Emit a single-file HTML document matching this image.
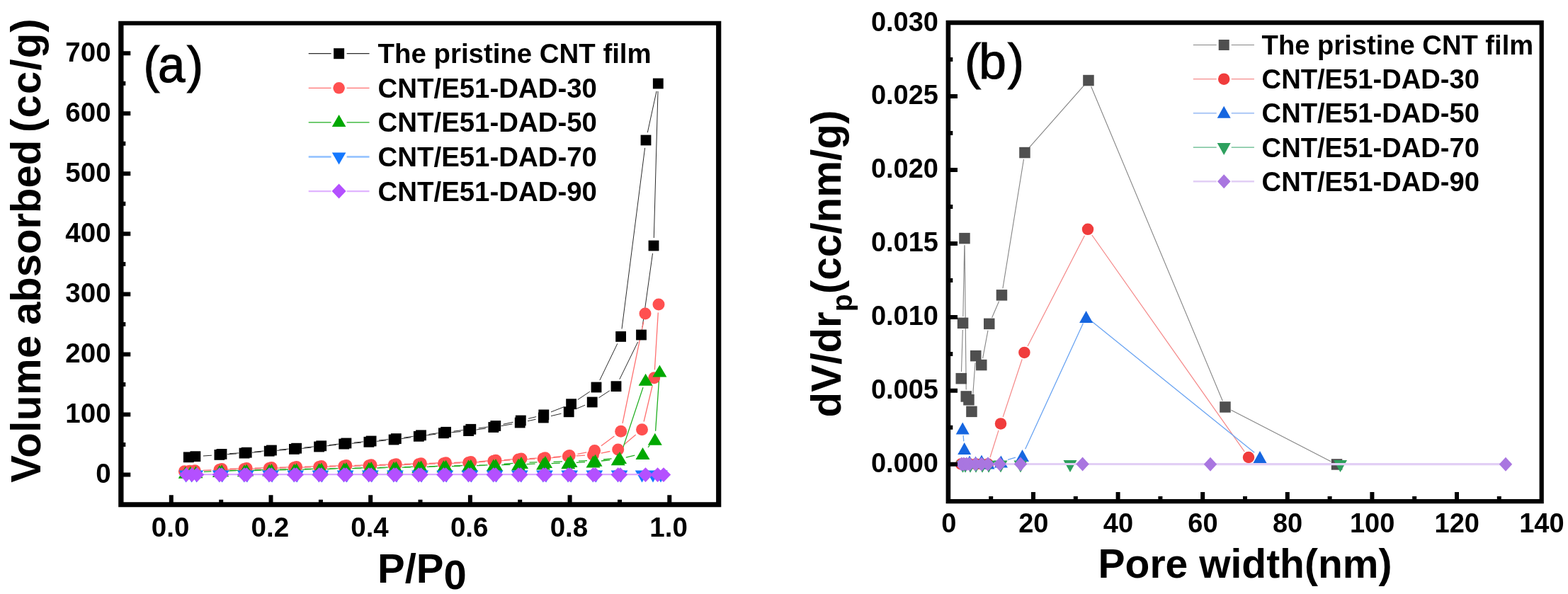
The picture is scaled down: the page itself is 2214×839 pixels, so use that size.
<!DOCTYPE html>
<html lang="en">
<head>
<meta charset="utf-8">
<title>N2 adsorption isotherms and pore width distribution</title>
<style>
html,body{margin:0;padding:0;background:#fff;}
body{width:2214px;height:839px;overflow:hidden;font-family:"Liberation Sans", Arial, sans-serif;}
svg{display:block;}
svg text{font-family:"Liberation Sans", Arial, sans-serif;}
</style>
</head>
<body>
<svg width="2214" height="839" viewBox="0 0 2214 839" font-family='"Liberation Sans", Arial, sans-serif' fill="#000">
<g id="panel-a">
<path d="M286.9,644.0L298.9,643.2 M320.8,641.7L334.0,640.9 M356.0,639.2L369.2,638.1 M391.2,636.3L404.4,635.3 M426.3,633.4L439.6,632.1 M461.5,629.8L474.8,628.3 M496.7,626.3L509.9,625.2 M531.9,623.3L545.1,622.0 M567.0,619.6L580.3,617.8 M602.2,614.9L615.5,613.2 M637.4,610.8L650.6,609.6 M672.5,607.0L685.9,605.1 M707.6,601.6L723.4,598.9 M745.0,594.7L756.5,592.3 M778.0,587.6L792.5,584.2 M813.3,577.6L826.1,572.2 M845.4,561.9L860.8,551.8 M874.8,535.8L900.7,482.9 M907.0,462.1L921.5,357.9 M923.3,336.0L929.0,129.0 M927.0,128.8L914.3,187.2 M910.6,208.9L878.0,464.5 M871.8,485.3L846.8,537.1 M832.9,553.1L815.7,564.6 M796.4,574.7L778.0,581.9 M757.1,588.6L746.0,591.3 M724.5,596.3L710.6,599.2 M688.9,603.0L675.7,604.8 M653.9,607.5L640.5,609.1 M618.7,611.7L605.4,613.4 M583.6,616.3L570.2,618.1 M548.4,620.7L535.0,621.9 M513.1,623.9L499.9,625.1 M478.0,627.2L464.6,628.6 M442.8,630.9L429.5,632.1 M407.6,634.1L394.4,635.1 M372.4,637.0L359.2,638.2 M337.2,639.9L324.0,640.7" fill="none" stroke="#2b2b2b" stroke-width="1.0"/>
<path d="M286.8,664.4L298.4,664.0 M321.3,663.2L333.5,662.8 M356.5,662.2L368.7,661.8 M391.7,661.2L403.9,660.8 M426.9,660.2L439.1,659.8 M462.0,659.2L474.2,658.9 M497.2,658.3L509.4,658.0 M532.4,657.4L544.6,657.1 M567.6,656.5L579.8,656.1 M602.7,655.4L614.9,655.0 M637.9,654.3L650.1,653.9 M673.1,652.8L685.3,652.0 M708.3,650.6L720.5,649.8 M743.4,648.6L755.6,648.2 M778.6,646.7L790.8,645.6 M813.8,643.9L826.0,643.2 M848.7,640.2L861.4,637.5 M881.5,627.7L897.7,614.1 M909.1,595.5L921.1,545.0 M924.4,522.3L929.3,441.5 M908.7,454.3L879.0,597.9 M867.4,616.0L848.9,629.7 M828.3,638.8L815.5,641.3 M792.7,644.6L781.2,645.7 M758.2,647.1L747.5,647.6 M724.5,648.7L711.5,649.6 M688.5,651.0L676.3,651.8 M653.3,652.9L641.1,653.3 M618.1,654.0L605.9,654.4 M583.0,655.1L570.8,655.5 M547.8,656.1L535.6,656.4 M512.6,657.0L500.4,657.3 M477.4,657.9L465.2,658.2 M442.3,658.8L430.1,659.2 M407.1,659.8L394.9,660.2 M371.9,660.8L359.7,661.2 M336.7,661.8L324.5,662.2" fill="none" stroke="#ff7070" stroke-width="1.3"/>
<path d="M288.0,666.3L298.4,665.9 M321.3,665.2L333.5,664.9 M356.5,664.5L368.7,664.3 M391.7,663.8L403.9,663.6 M426.9,663.1L439.1,662.9 M462.0,662.5L474.2,662.2 M497.2,661.7L509.4,661.5 M532.4,661.0L544.6,660.7 M567.6,660.2L579.8,660.0 M602.7,659.4L614.9,659.1 M637.9,658.6L650.1,658.3 M673.1,657.7L685.3,657.4 M708.3,656.7L720.5,656.3 M743.4,655.6L755.6,655.2 M778.6,654.6L790.8,654.2 M813.8,653.3L826.0,652.7 M848.9,651.0L861.2,649.8 M883.8,646.1L896.3,643.2 M915.0,631.8L917.3,629.1 M925.6,608.8L930.6,535.5 M908.0,547.1L878.6,635.6 M863.6,647.8L851.9,649.0 M829.0,650.7L817.0,651.2 M794.0,651.9L781.5,652.3 M758.5,652.9L747.5,653.1 M724.5,654.4L711.4,655.5 M688.5,656.8L676.3,657.1 M653.3,657.7L641.1,658.0 M618.1,658.5L605.9,658.8 M583.0,659.4L570.8,659.6 M547.8,660.1L535.6,660.4 M512.6,660.9L500.4,661.1 M477.4,661.6L465.2,661.9 M442.3,662.3L430.1,662.5 M407.1,663.0L394.9,663.2 M371.9,663.7L359.7,663.9 M336.7,664.3L324.5,664.6" fill="none" stroke="#1fae1f" stroke-width="1.3"/>
<polyline points="262.5,670.2 270.5,670.2 277.5,670.2 309.6,670.2 313.9,670.2 344.7,670.2 349.0,670.2 379.9,670.2 384.2,670.2 415.1,670.2 419.4,670.2 450.2,670.2 454.6,670.2 485.4,670.2 489.7,670.2 520.6,670.2 524.9,670.2 555.8,670.2 560.1,670.2 591.0,670.2 595.2,670.2 626.1,670.2 630.4,670.2 661.3,670.2 665.6,670.2 696.5,670.2 700.8,670.2 731.7,670.2 736.0,670.2 766.8,670.2 771.1,670.2 802.0,670.2 806.3,670.2 837.2,670.2 841.5,670.2 872.4,670.2 876.7,670.2 906.5,670.2 922.0,670.2 933.0,670.2" fill="none" stroke="#6fa9ff" stroke-width="1.6" stroke-linejoin="round" />
<rect x="258.9" y="638.4" width="14.8" height="14.8" fill="#000000"/>
<rect x="268.5" y="637.3" width="14.8" height="14.8" fill="#000000"/>
<rect x="302.5" y="635.0" width="14.8" height="14.8" fill="#000000"/>
<rect x="337.6" y="632.7" width="14.8" height="14.8" fill="#000000"/>
<rect x="372.8" y="629.8" width="14.8" height="14.8" fill="#000000"/>
<rect x="408.0" y="627.0" width="14.8" height="14.8" fill="#000000"/>
<rect x="443.2" y="623.6" width="14.8" height="14.8" fill="#000000"/>
<rect x="478.3" y="619.7" width="14.8" height="14.8" fill="#000000"/>
<rect x="513.5" y="616.9" width="14.8" height="14.8" fill="#000000"/>
<rect x="548.7" y="613.6" width="14.8" height="14.8" fill="#000000"/>
<rect x="583.9" y="608.9" width="14.8" height="14.8" fill="#000000"/>
<rect x="619.0" y="604.4" width="14.8" height="14.8" fill="#000000"/>
<rect x="654.2" y="601.2" width="14.8" height="14.8" fill="#000000"/>
<rect x="689.4" y="596.1" width="14.8" height="14.8" fill="#000000"/>
<rect x="726.8" y="589.6" width="14.8" height="14.8" fill="#000000"/>
<rect x="759.9" y="582.6" width="14.8" height="14.8" fill="#000000"/>
<rect x="795.8" y="574.4" width="14.8" height="14.8" fill="#000000"/>
<rect x="828.8" y="560.6" width="14.8" height="14.8" fill="#000000"/>
<rect x="862.6" y="538.3" width="14.8" height="14.8" fill="#000000"/>
<rect x="898.1" y="465.6" width="14.8" height="14.8" fill="#000000"/>
<rect x="915.6" y="339.6" width="14.8" height="14.8" fill="#000000"/>
<rect x="921.9" y="110.6" width="14.8" height="14.8" fill="#000000"/>
<rect x="904.6" y="190.6" width="14.8" height="14.8" fill="#000000"/>
<rect x="869.2" y="468.0" width="14.8" height="14.8" fill="#000000"/>
<rect x="834.6" y="539.6" width="14.8" height="14.8" fill="#000000"/>
<rect x="799.2" y="563.3" width="14.8" height="14.8" fill="#000000"/>
<rect x="760.4" y="578.5" width="14.8" height="14.8" fill="#000000"/>
<rect x="727.9" y="586.6" width="14.8" height="14.8" fill="#000000"/>
<rect x="692.4" y="594.1" width="14.8" height="14.8" fill="#000000"/>
<rect x="657.4" y="598.9" width="14.8" height="14.8" fill="#000000"/>
<rect x="622.2" y="602.9" width="14.8" height="14.8" fill="#000000"/>
<rect x="587.1" y="607.4" width="14.8" height="14.8" fill="#000000"/>
<rect x="551.9" y="612.2" width="14.8" height="14.8" fill="#000000"/>
<rect x="516.7" y="615.6" width="14.8" height="14.8" fill="#000000"/>
<rect x="481.5" y="618.6" width="14.8" height="14.8" fill="#000000"/>
<rect x="446.3" y="622.4" width="14.8" height="14.8" fill="#000000"/>
<rect x="411.2" y="625.8" width="14.8" height="14.8" fill="#000000"/>
<rect x="376.0" y="628.6" width="14.8" height="14.8" fill="#000000"/>
<rect x="340.8" y="631.8" width="14.8" height="14.8" fill="#000000"/>
<rect x="305.6" y="634.0" width="14.8" height="14.8" fill="#000000"/>
<circle cx="260.4" cy="665.8" r="8.5" fill="#ff5050"/>
<circle cx="267.8" cy="665.3" r="8.5" fill="#ff5050"/>
<circle cx="275.3" cy="664.8" r="8.5" fill="#ff5050"/>
<circle cx="309.9" cy="663.5" r="8.5" fill="#ff5050"/>
<circle cx="345.0" cy="662.5" r="8.5" fill="#ff5050"/>
<circle cx="380.2" cy="661.5" r="8.5" fill="#ff5050"/>
<circle cx="415.4" cy="660.5" r="8.5" fill="#ff5050"/>
<circle cx="450.6" cy="659.5" r="8.5" fill="#ff5050"/>
<circle cx="485.7" cy="658.6" r="8.5" fill="#ff5050"/>
<circle cx="520.9" cy="657.7" r="8.5" fill="#ff5050"/>
<circle cx="556.1" cy="656.8" r="8.5" fill="#ff5050"/>
<circle cx="591.2" cy="655.8" r="8.5" fill="#ff5050"/>
<circle cx="626.4" cy="654.7" r="8.5" fill="#ff5050"/>
<circle cx="661.6" cy="653.5" r="8.5" fill="#ff5050"/>
<circle cx="696.8" cy="651.3" r="8.5" fill="#ff5050"/>
<circle cx="732.0" cy="649.1" r="8.5" fill="#ff5050"/>
<circle cx="767.1" cy="647.7" r="8.5" fill="#ff5050"/>
<circle cx="802.3" cy="644.6" r="8.5" fill="#ff5050"/>
<circle cx="837.5" cy="642.6" r="8.5" fill="#ff5050"/>
<circle cx="872.7" cy="635.1" r="8.5" fill="#ff5050"/>
<circle cx="906.5" cy="606.7" r="8.5" fill="#ff5050"/>
<circle cx="923.7" cy="533.8" r="8.5" fill="#ff5050"/>
<circle cx="930.0" cy="430.0" r="8.5" fill="#ff5050"/>
<circle cx="911.0" cy="443.0" r="8.5" fill="#ff5050"/>
<circle cx="876.7" cy="609.2" r="8.5" fill="#ff5050"/>
<circle cx="839.6" cy="636.5" r="8.5" fill="#ff5050"/>
<circle cx="804.2" cy="643.6" r="8.5" fill="#ff5050"/>
<circle cx="769.7" cy="646.7" r="8.5" fill="#ff5050"/>
<circle cx="736.0" cy="648.0" r="8.5" fill="#ff5050"/>
<circle cx="700.0" cy="650.3" r="8.5" fill="#ff5050"/>
<circle cx="664.8" cy="652.5" r="8.5" fill="#ff5050"/>
<circle cx="629.6" cy="653.7" r="8.5" fill="#ff5050"/>
<circle cx="594.5" cy="654.8" r="8.5" fill="#ff5050"/>
<circle cx="559.3" cy="655.8" r="8.5" fill="#ff5050"/>
<circle cx="524.1" cy="656.7" r="8.5" fill="#ff5050"/>
<circle cx="488.9" cy="657.6" r="8.5" fill="#ff5050"/>
<circle cx="453.8" cy="658.5" r="8.5" fill="#ff5050"/>
<circle cx="418.6" cy="659.5" r="8.5" fill="#ff5050"/>
<circle cx="383.4" cy="660.5" r="8.5" fill="#ff5050"/>
<circle cx="348.2" cy="661.5" r="8.5" fill="#ff5050"/>
<circle cx="313.1" cy="662.5" r="8.5" fill="#ff5050"/>
<polygon points="251.8,675.7 271.8,675.7 261.8,658.7" fill="#00a800"/>
<polygon points="258.8,675.5 278.8,675.5 268.8,658.5" fill="#00a800"/>
<polygon points="266.5,675.3 286.5,675.3 276.5,658.3" fill="#00a800"/>
<polygon points="299.9,673.9 319.9,673.9 309.9,656.9" fill="#00a800"/>
<polygon points="335.0,673.2 355.0,673.2 345.0,656.2" fill="#00a800"/>
<polygon points="370.2,672.5 390.2,672.5 380.2,655.5" fill="#00a800"/>
<polygon points="405.4,671.9 425.4,671.9 415.4,654.9" fill="#00a800"/>
<polygon points="440.6,671.2 460.6,671.2 450.6,654.2" fill="#00a800"/>
<polygon points="475.7,670.5 495.7,670.5 485.7,653.5" fill="#00a800"/>
<polygon points="510.9,669.7 530.9,669.7 520.9,652.7" fill="#00a800"/>
<polygon points="546.1,669.0 566.1,669.0 556.1,652.0" fill="#00a800"/>
<polygon points="581.2,668.2 601.2,668.2 591.2,651.2" fill="#00a800"/>
<polygon points="616.4,667.3 636.4,667.3 626.4,650.3" fill="#00a800"/>
<polygon points="651.6,666.5 671.6,666.5 661.6,649.5" fill="#00a800"/>
<polygon points="686.8,665.6 706.8,665.6 696.8,648.6" fill="#00a800"/>
<polygon points="722.0,664.4 742.0,664.4 732.0,647.4" fill="#00a800"/>
<polygon points="757.1,663.4 777.1,663.4 767.1,646.4" fill="#00a800"/>
<polygon points="792.3,662.3 812.3,662.3 802.3,645.3" fill="#00a800"/>
<polygon points="827.5,660.6 847.5,660.6 837.5,643.6" fill="#00a800"/>
<polygon points="862.7,657.2 882.7,657.2 872.7,640.2" fill="#00a800"/>
<polygon points="897.5,649.1 917.5,649.1 907.5,632.1" fill="#00a800"/>
<polygon points="914.8,628.8 934.8,628.8 924.8,611.8" fill="#00a800"/>
<polygon points="921.4,532.5 941.4,532.5 931.4,515.5" fill="#00a800"/>
<polygon points="901.6,544.7 921.6,544.7 911.6,527.7" fill="#00a800"/>
<polygon points="865.0,655.0 885.0,655.0 875.0,638.0" fill="#00a800"/>
<polygon points="830.5,658.8 850.5,658.8 840.5,641.8" fill="#00a800"/>
<polygon points="795.5,660.1 815.5,660.1 805.5,643.1" fill="#00a800"/>
<polygon points="760.0,661.1 780.0,661.1 770.0,644.1" fill="#00a800"/>
<polygon points="726.0,661.9 746.0,661.9 736.0,644.9" fill="#00a800"/>
<polygon points="690.0,665.0 710.0,665.0 700.0,648.0" fill="#00a800"/>
<polygon points="654.8,665.9 674.8,665.9 664.8,648.9" fill="#00a800"/>
<polygon points="619.6,666.7 639.6,666.7 629.6,649.7" fill="#00a800"/>
<polygon points="584.5,667.6 604.5,667.6 594.5,650.6" fill="#00a800"/>
<polygon points="549.3,668.4 569.3,668.4 559.3,651.4" fill="#00a800"/>
<polygon points="514.1,669.1 534.1,669.1 524.1,652.1" fill="#00a800"/>
<polygon points="478.9,669.9 498.9,669.9 488.9,652.9" fill="#00a800"/>
<polygon points="443.8,670.6 463.8,670.6 453.8,653.6" fill="#00a800"/>
<polygon points="408.6,671.3 428.6,671.3 418.6,654.3" fill="#00a800"/>
<polygon points="373.4,671.9 393.4,671.9 383.4,654.9" fill="#00a800"/>
<polygon points="338.2,672.6 358.2,672.6 348.2,655.6" fill="#00a800"/>
<polygon points="303.1,673.3 323.1,673.3 313.1,656.3" fill="#00a800"/>
<polygon points="252.8,664.5 272.2,664.5 262.5,681.5" fill="#1478ff"/>
<polygon points="260.8,664.5 280.2,664.5 270.5,681.5" fill="#1478ff"/>
<polygon points="267.8,664.5 287.2,664.5 277.5,681.5" fill="#1478ff"/>
<polygon points="299.8,664.5 319.3,664.5 309.6,681.5" fill="#1478ff"/>
<polygon points="304.1,664.5 323.6,664.5 313.9,681.5" fill="#1478ff"/>
<polygon points="335.0,664.5 354.5,664.5 344.7,681.5" fill="#1478ff"/>
<polygon points="339.3,664.5 358.8,664.5 349.0,681.5" fill="#1478ff"/>
<polygon points="370.1,664.5 389.6,664.5 379.9,681.5" fill="#1478ff"/>
<polygon points="374.4,664.5 393.9,664.5 384.2,681.5" fill="#1478ff"/>
<polygon points="405.3,664.5 424.8,664.5 415.1,681.5" fill="#1478ff"/>
<polygon points="409.6,664.5 429.1,664.5 419.4,681.5" fill="#1478ff"/>
<polygon points="440.5,664.5 460.0,664.5 450.2,681.5" fill="#1478ff"/>
<polygon points="444.8,664.5 464.3,664.5 454.6,681.5" fill="#1478ff"/>
<polygon points="475.7,664.5 495.2,664.5 485.4,681.5" fill="#1478ff"/>
<polygon points="480.0,664.5 499.5,664.5 489.7,681.5" fill="#1478ff"/>
<polygon points="510.9,664.5 530.4,664.5 520.6,681.5" fill="#1478ff"/>
<polygon points="515.2,664.5 534.7,664.5 524.9,681.5" fill="#1478ff"/>
<polygon points="546.0,664.5 565.5,664.5 555.8,681.5" fill="#1478ff"/>
<polygon points="550.3,664.5 569.8,664.5 560.1,681.5" fill="#1478ff"/>
<polygon points="581.2,664.5 600.7,664.5 591.0,681.5" fill="#1478ff"/>
<polygon points="585.5,664.5 605.0,664.5 595.2,681.5" fill="#1478ff"/>
<polygon points="616.4,664.5 635.9,664.5 626.1,681.5" fill="#1478ff"/>
<polygon points="620.7,664.5 640.2,664.5 630.4,681.5" fill="#1478ff"/>
<polygon points="651.6,664.5 671.1,664.5 661.3,681.5" fill="#1478ff"/>
<polygon points="655.9,664.5 675.4,664.5 665.6,681.5" fill="#1478ff"/>
<polygon points="686.7,664.5 706.2,664.5 696.5,681.5" fill="#1478ff"/>
<polygon points="691.0,664.5 710.5,664.5 700.8,681.5" fill="#1478ff"/>
<polygon points="721.9,664.5 741.4,664.5 731.7,681.5" fill="#1478ff"/>
<polygon points="726.2,664.5 745.7,664.5 736.0,681.5" fill="#1478ff"/>
<polygon points="757.1,664.5 776.6,664.5 766.8,681.5" fill="#1478ff"/>
<polygon points="761.4,664.5 780.9,664.5 771.1,681.5" fill="#1478ff"/>
<polygon points="792.3,664.5 811.8,664.5 802.0,681.5" fill="#1478ff"/>
<polygon points="796.6,664.5 816.1,664.5 806.3,681.5" fill="#1478ff"/>
<polygon points="827.4,664.5 846.9,664.5 837.2,681.5" fill="#1478ff"/>
<polygon points="831.7,664.5 851.2,664.5 841.5,681.5" fill="#1478ff"/>
<polygon points="862.6,664.5 882.1,664.5 872.4,681.5" fill="#1478ff"/>
<polygon points="866.9,664.5 886.4,664.5 876.7,681.5" fill="#1478ff"/>
<polygon points="896.8,664.5 916.2,664.5 906.5,681.5" fill="#1478ff"/>
<polygon points="912.2,664.5 931.8,664.5 922.0,681.5" fill="#1478ff"/>
<polygon points="923.2,664.5 942.8,664.5 933.0,681.5" fill="#1478ff"/>
<polyline points="263.0,670.2 271.0,670.2 278.0,670.2 309.9,670.2 313.1,670.2 345.0,670.2 348.2,670.2 380.2,670.2 383.4,670.2 415.4,670.2 418.6,670.2 450.6,670.2 453.8,670.2 485.7,670.2 488.9,670.2 520.9,670.2 524.1,670.2 556.1,670.2 559.3,670.2 591.2,670.2 594.5,670.2 626.4,670.2 629.6,670.2 661.6,670.2 664.8,670.2 696.8,670.2 700.0,670.2 732.0,670.2 735.2,670.2 767.1,670.2 770.3,670.2 802.3,670.2 805.5,670.2 837.5,670.2 840.7,670.2 872.7,670.2 875.9,670.2 911.5,670.2 928.6,670.2 937.0,670.2" fill="none" stroke="#dba8ff" stroke-width="2.2" stroke-linejoin="round" />
<polygon points="252.8,670.6 263.0,660.3 273.2,670.6 263.0,680.9" fill="#b450ff"/>
<polygon points="260.8,670.6 271.0,660.3 281.2,670.6 271.0,680.9" fill="#b450ff"/>
<polygon points="267.8,670.6 278.0,660.3 288.2,670.6 278.0,680.9" fill="#b450ff"/>
<polygon points="299.7,670.6 309.9,660.3 320.1,670.6 309.9,680.9" fill="#b450ff"/>
<polygon points="302.9,670.6 313.1,660.3 323.2,670.6 313.1,680.9" fill="#b450ff"/>
<polygon points="334.8,670.6 345.0,660.3 355.2,670.6 345.0,680.9" fill="#b450ff"/>
<polygon points="338.0,670.6 348.2,660.3 358.4,670.6 348.2,680.9" fill="#b450ff"/>
<polygon points="370.0,670.6 380.2,660.3 390.4,670.6 380.2,680.9" fill="#b450ff"/>
<polygon points="373.2,670.6 383.4,660.3 393.6,670.6 383.4,680.9" fill="#b450ff"/>
<polygon points="405.2,670.6 415.4,660.3 425.6,670.6 415.4,680.9" fill="#b450ff"/>
<polygon points="408.4,670.6 418.6,660.3 428.8,670.6 418.6,680.9" fill="#b450ff"/>
<polygon points="440.4,670.6 450.6,660.3 460.8,670.6 450.6,680.9" fill="#b450ff"/>
<polygon points="443.6,670.6 453.8,660.3 463.9,670.6 453.8,680.9" fill="#b450ff"/>
<polygon points="475.5,670.6 485.7,660.3 495.9,670.6 485.7,680.9" fill="#b450ff"/>
<polygon points="478.7,670.6 488.9,660.3 499.1,670.6 488.9,680.9" fill="#b450ff"/>
<polygon points="510.7,670.6 520.9,660.3 531.1,670.6 520.9,680.9" fill="#b450ff"/>
<polygon points="513.9,670.6 524.1,660.3 534.3,670.6 524.1,680.9" fill="#b450ff"/>
<polygon points="545.9,670.6 556.1,660.3 566.3,670.6 556.1,680.9" fill="#b450ff"/>
<polygon points="549.1,670.6 559.3,660.3 569.5,670.6 559.3,680.9" fill="#b450ff"/>
<polygon points="581.0,670.6 591.2,660.3 601.5,670.6 591.2,680.9" fill="#b450ff"/>
<polygon points="584.2,670.6 594.5,660.3 604.7,670.6 594.5,680.9" fill="#b450ff"/>
<polygon points="616.2,670.6 626.4,660.3 636.6,670.6 626.4,680.9" fill="#b450ff"/>
<polygon points="619.4,670.6 629.6,660.3 639.8,670.6 629.6,680.9" fill="#b450ff"/>
<polygon points="651.4,670.6 661.6,660.3 671.8,670.6 661.6,680.9" fill="#b450ff"/>
<polygon points="654.6,670.6 664.8,660.3 675.0,670.6 664.8,680.9" fill="#b450ff"/>
<polygon points="686.6,670.6 696.8,660.3 707.0,670.6 696.8,680.9" fill="#b450ff"/>
<polygon points="689.8,670.6 700.0,660.3 710.2,670.6 700.0,680.9" fill="#b450ff"/>
<polygon points="721.8,670.6 732.0,660.3 742.2,670.6 732.0,680.9" fill="#b450ff"/>
<polygon points="725.0,670.6 735.2,660.3 745.4,670.6 735.2,680.9" fill="#b450ff"/>
<polygon points="756.9,670.6 767.1,660.3 777.3,670.6 767.1,680.9" fill="#b450ff"/>
<polygon points="760.1,670.6 770.3,660.3 780.5,670.6 770.3,680.9" fill="#b450ff"/>
<polygon points="792.1,670.6 802.3,660.3 812.5,670.6 802.3,680.9" fill="#b450ff"/>
<polygon points="795.3,670.6 805.5,660.3 815.7,670.6 805.5,680.9" fill="#b450ff"/>
<polygon points="827.3,670.6 837.5,660.3 847.7,670.6 837.5,680.9" fill="#b450ff"/>
<polygon points="830.5,670.6 840.7,660.3 850.9,670.6 840.7,680.9" fill="#b450ff"/>
<polygon points="862.5,670.6 872.7,660.3 882.9,670.6 872.7,680.9" fill="#b450ff"/>
<polygon points="865.7,670.6 875.9,660.3 886.1,670.6 875.9,680.9" fill="#b450ff"/>
<polygon points="901.3,670.6 911.5,660.3 921.7,670.6 911.5,680.9" fill="#b450ff"/>
<polygon points="918.4,670.6 928.6,660.3 938.8,670.6 928.6,680.9" fill="#b450ff"/>
<polygon points="926.8,670.6 937.0,660.3 947.2,670.6 937.0,680.9" fill="#b450ff"/>
<path fill-rule="evenodd" d="M167.2,29.8H1018.3V716.3H167.2Z M174.5,35.8H1011.1V709.2H174.5Z"/>
<path d="M170.8,670.5h13.5 M170.8,585.5h13.5 M170.8,500.4h13.5 M170.8,415.4h13.5 M170.8,330.3h13.5 M170.8,245.3h13.5 M170.8,160.3h13.5 M170.8,75.2h13.5 M170.8,628.0h6.5 M170.8,542.9h6.5 M170.8,457.9h6.5 M170.8,372.9h6.5 M170.8,287.8h6.5 M170.8,202.8h6.5 M170.8,117.7h6.5 M241.8,712.7v-13.5 M382.5,712.7v-13.5 M523.2,712.7v-13.5 M663.9,712.7v-13.5 M804.6,712.7v-13.5 M945.3,712.7v-13.5 M312.2,712.7v-7 M452.9,712.7v-7 M593.5,712.7v-7 M734.2,712.7v-7 M875.0,712.7v-7" stroke="#000" stroke-width="6" fill="none"/>
<text x="156.6" y="682.3" font-size="38.5" font-weight="bold" text-anchor="end" >0</text>
<text x="156.6" y="597.3" font-size="38.5" font-weight="bold" text-anchor="end" >100</text>
<text x="156.6" y="512.2" font-size="38.5" font-weight="bold" text-anchor="end" >200</text>
<text x="156.6" y="427.2" font-size="38.5" font-weight="bold" text-anchor="end" >300</text>
<text x="156.6" y="342.1" font-size="38.5" font-weight="bold" text-anchor="end" >400</text>
<text x="156.6" y="257.1" font-size="38.5" font-weight="bold" text-anchor="end" >500</text>
<text x="156.6" y="172.1" font-size="38.5" font-weight="bold" text-anchor="end" >600</text>
<text x="156.6" y="87.0" font-size="38.5" font-weight="bold" text-anchor="end" >700</text>
<text x="240.6" y="758.0" font-size="38.5" font-weight="bold" text-anchor="middle" >0.0</text>
<text x="381.3" y="758.0" font-size="38.5" font-weight="bold" text-anchor="middle" >0.2</text>
<text x="522.0" y="758.0" font-size="38.5" font-weight="bold" text-anchor="middle" >0.4</text>
<text x="662.7" y="758.0" font-size="38.5" font-weight="bold" text-anchor="middle" >0.6</text>
<text x="803.4" y="758.0" font-size="38.5" font-weight="bold" text-anchor="middle" >0.8</text>
<text x="944.1" y="758.0" font-size="38.5" font-weight="bold" text-anchor="middle" >1.0</text>
<text x="0.0" y="0.0" font-size="60" font-weight="bold" text-anchor="middle" transform="translate(57 353.5) rotate(-90) scale(0.967 1)"><tspan style="letter-spacing:0.6px">Volume</tspan><tspan dx="-2"> absorbed</tspan><tspan dx="-6.5" style="letter-spacing:1.2px"> (cc/g)</tspan></text>
<text x="533" y="823.4" font-size="58" font-weight="bold">P/P<tspan dy="9">0</tspan></text>
<text transform="translate(202.6 116.1) scale(1 1.045)" font-size="69" font-weight="normal" stroke="#000" stroke-width="1.1">(<tspan dx="-2.6">a</tspan><tspan dx="2.6">)</tspan></text>
<path d="M435.7,75.7H467.6 M489.6,75.7H521.5" stroke="#2b2b2b" stroke-width="1.2"/>
<rect x="471.1" y="68.2" width="15" height="15" fill="#000000"/>
<text x="533.6" y="89.2" font-size="38.4" font-weight="bold" text-anchor="start" >The pristine CNT film</text>
<path d="M435.7,124.3H467.6 M489.6,124.3H521.5" stroke="#ff7070" stroke-width="1.2"/>
<circle cx="478.6" cy="124.3" r="8.25" fill="#ff5050"/>
<text x="533.6" y="137.8" font-size="38.4" font-weight="bold" text-anchor="start" >CNT/E51-DAD-30</text>
<path d="M435.7,172.9H467.6 M489.6,172.9H521.5" stroke="#1fae1f" stroke-width="1.2"/>
<polygon points="468.8,179.0 488.4,179.0 478.6,162.0" fill="#00a800"/>
<text x="533.6" y="186.4" font-size="38.4" font-weight="bold" text-anchor="start" >CNT/E51-DAD-50</text>
<path d="M435.7,221.5H467.6 M489.6,221.5H521.5" stroke="#8fc0ff" stroke-width="2.4"/>
<polygon points="468.8,215.4 488.4,215.4 478.6,232.4" fill="#1478ff"/>
<text x="533.6" y="235.0" font-size="38.4" font-weight="bold" text-anchor="start" >CNT/E51-DAD-70</text>
<path d="M435.7,270.1H467.6 M489.6,270.1H521.5" stroke="#e0b4ff" stroke-width="2.4"/>
<polygon points="468.6,270.1 478.6,259.6 488.6,270.1 478.6,280.6" fill="#b450ff"/>
<text x="533.6" y="283.6" font-size="38.4" font-weight="bold" text-anchor="start" >CNT/E51-DAD-90</text>
</g>
<g id="panel-b">
<path d="M1357.5,525.1L1359.3,465.9 M1359.8,446.9L1361.8,346.2 M1362.1,346.2L1364.2,550.5 M1372.7,571.9L1377.0,512.2 M1387.6,506.2L1395.0,466.7 M1400.6,448.7L1410.6,425.5 M1415.9,407.4L1445.5,224.9 M1453.3,208.4L1530.7,120.6 M1540.7,122.3L1726.3,566.2 M1738.4,579.3L1879.1,651.7" fill="none" stroke="#858585" stroke-width="1.1"/>
<path d="M1398.0,646.0L1410.0,607.9 M1416.2,588.9L1443.2,507.4 M1451.0,489.0L1531.4,332.7 M1541.8,332.0L1757.2,637.8" fill="none" stroke="#f58c8c" stroke-width="1.3"/>
<path d="M1360.1,615.0L1360.8,623.4 M1423.0,649.3L1433.9,646.1 M1447.7,634.3L1529.4,456.6 M1541.4,453.8L1771.2,639.2" fill="none" stroke="#6aa4f2" stroke-width="1.3"/>
<polyline points="1359.5,656.0 1363.0,656.0 1370.0,656.0 1378.0,656.0 1387.0,656.0 1396.0,656.0 1413.0,656.0 1441.0,656.0 1511.0,656.0 1892.5,656.0" fill="none" stroke="#5cb888" stroke-width="1.2" stroke-linejoin="round" />
<rect x="1349.5" y="526.9" width="15.5" height="15.5" fill="#4f4f4f"/>
<rect x="1351.8" y="448.6" width="15.5" height="15.5" fill="#4f4f4f"/>
<rect x="1354.2" y="328.9" width="15.5" height="15.5" fill="#4f4f4f"/>
<rect x="1356.5" y="552.2" width="15.5" height="15.5" fill="#4f4f4f"/>
<rect x="1360.2" y="557.0" width="15.5" height="15.5" fill="#4f4f4f"/>
<rect x="1364.2" y="573.6" width="15.5" height="15.5" fill="#4f4f4f"/>
<rect x="1370.0" y="494.9" width="15.5" height="15.5" fill="#4f4f4f"/>
<rect x="1378.0" y="507.8" width="15.5" height="15.5" fill="#4f4f4f"/>
<rect x="1389.0" y="449.6" width="15.5" height="15.5" fill="#4f4f4f"/>
<rect x="1406.7" y="409.1" width="15.5" height="15.5" fill="#4f4f4f"/>
<rect x="1439.2" y="207.8" width="15.5" height="15.5" fill="#4f4f4f"/>
<rect x="1529.2" y="105.8" width="15.5" height="15.5" fill="#4f4f4f"/>
<rect x="1722.2" y="567.2" width="15.5" height="15.5" fill="#4f4f4f"/>
<rect x="1879.8" y="648.2" width="15.5" height="15.5" fill="#4f4f4f"/>
<circle cx="1357.0" cy="655.5" r="8.25" fill="#f03c3c"/>
<circle cx="1361.0" cy="655.0" r="8.25" fill="#f03c3c"/>
<circle cx="1369.0" cy="655.5" r="8.25" fill="#f03c3c"/>
<circle cx="1378.0" cy="655.5" r="8.25" fill="#f03c3c"/>
<circle cx="1386.0" cy="655.5" r="8.25" fill="#f03c3c"/>
<circle cx="1395.0" cy="655.5" r="8.25" fill="#f03c3c"/>
<circle cx="1413.0" cy="598.4" r="8.25" fill="#f03c3c"/>
<circle cx="1446.4" cy="497.9" r="8.25" fill="#f03c3c"/>
<circle cx="1536.0" cy="323.8" r="8.25" fill="#f03c3c"/>
<circle cx="1763.0" cy="646.0" r="8.25" fill="#f03c3c"/>
<polygon points="1349.7,613.5 1368.7,613.5 1359.2,596.5" fill="#1666e0"/>
<polygon points="1352.2,641.9 1371.2,641.9 1361.7,624.9" fill="#1666e0"/>
<polygon points="1359.5,660.5 1378.5,660.5 1369.0,643.5" fill="#1666e0"/>
<polygon points="1368.1,661.5 1387.1,661.5 1377.6,644.5" fill="#1666e0"/>
<polygon points="1376.5,659.5 1395.5,659.5 1386.0,642.5" fill="#1666e0"/>
<polygon points="1385.5,662.5 1404.5,662.5 1395.0,645.5" fill="#1666e0"/>
<polygon points="1403.9,660.5 1422.9,660.5 1413.4,643.5" fill="#1666e0"/>
<polygon points="1434.0,651.9 1453.0,651.9 1443.5,634.9" fill="#1666e0"/>
<polygon points="1524.1,456.0 1543.1,456.0 1533.6,439.0" fill="#1666e0"/>
<polygon points="1769.5,654.0 1788.5,654.0 1779.0,637.0" fill="#1666e0"/>
<polygon points="1350.0,650.8 1369.0,650.8 1359.5,667.8" fill="#2ea05e"/>
<polygon points="1353.5,650.8 1372.5,650.8 1363.0,667.8" fill="#2ea05e"/>
<polygon points="1360.5,650.8 1379.5,650.8 1370.0,667.8" fill="#2ea05e"/>
<polygon points="1368.5,650.8 1387.5,650.8 1378.0,667.8" fill="#2ea05e"/>
<polygon points="1377.5,650.8 1396.5,650.8 1387.0,667.8" fill="#2ea05e"/>
<polygon points="1386.5,650.8 1405.5,650.8 1396.0,667.8" fill="#2ea05e"/>
<polygon points="1403.5,650.5 1422.5,650.5 1413.0,667.5" fill="#2ea05e"/>
<polygon points="1431.5,650.5 1450.5,650.5 1441.0,667.5" fill="#2ea05e"/>
<polygon points="1501.5,650.0 1520.5,650.0 1511.0,667.0" fill="#2ea05e"/>
<polygon points="1883.0,650.0 1902.0,650.0 1892.5,667.0" fill="#2ea05e"/>
<polyline points="1357.8,655.5 1360.9,655.5 1364.8,655.5 1369.0,655.5 1377.6,655.5 1386.0,655.5 1395.0,655.5 1411.8,655.5 1441.0,655.5 1528.6,655.5 1709.0,655.7 2126.0,655.7" fill="none" stroke="#e2cff5" stroke-width="3.2" stroke-linejoin="round" />
<polygon points="1348.5,655.5 1357.8,645.5 1367.0,655.5 1357.8,665.5" fill="#a976e0"/>
<polygon points="1351.7,655.5 1360.9,645.5 1370.2,655.5 1360.9,665.5" fill="#a976e0"/>
<polygon points="1355.5,655.5 1364.8,645.5 1374.0,655.5 1364.8,665.5" fill="#a976e0"/>
<polygon points="1359.8,655.5 1369.0,645.5 1378.2,655.5 1369.0,665.5" fill="#a976e0"/>
<polygon points="1368.3,655.5 1377.6,645.5 1386.8,655.5 1377.6,665.5" fill="#a976e0"/>
<polygon points="1376.8,655.5 1386.0,645.5 1395.2,655.5 1386.0,665.5" fill="#a976e0"/>
<polygon points="1385.8,655.5 1395.0,645.5 1404.2,655.5 1395.0,665.5" fill="#a976e0"/>
<polygon points="1402.5,655.5 1411.8,645.5 1421.0,655.5 1411.8,665.5" fill="#a976e0"/>
<polygon points="1431.8,655.5 1441.0,645.5 1450.2,655.5 1441.0,665.5" fill="#a976e0"/>
<polygon points="1519.3,655.5 1528.6,645.5 1537.8,655.5 1528.6,665.5" fill="#a976e0"/>
<polygon points="1699.8,655.7 1709.0,645.7 1718.2,655.7 1709.0,665.7" fill="#a976e0"/>
<polygon points="2116.8,655.7 2126.0,645.7 2135.2,655.7 2126.0,665.7" fill="#a976e0"/>
<path fill-rule="evenodd" d="M1335.6,28.7H2179.8V711.3H1335.6Z M1342.2,35.2H2173.6V704.9H1342.2Z"/>
<path d="M1339.0,655.8h13 M1339.0,551.8h13 M1339.0,447.9h13 M1339.0,343.9h13 M1339.0,240.0h13 M1339.0,136.0h13 M1339.0,603.8h6.3 M1339.0,499.9h6.3 M1339.0,395.9h6.3 M1339.0,292.0h6.3 M1339.0,188.0h6.3 M1339.0,84.1h6.3 M1459.0,708.1v-13 M1578.6,708.1v-13 M1698.2,708.1v-13 M1817.8,708.1v-13 M1937.4,708.1v-13 M2057.0,708.1v-13 M1399.2,708.1v-7 M1518.8,708.1v-7 M1638.4,708.1v-7 M1758.0,708.1v-7 M1877.6,708.1v-7 M1997.2,708.1v-7 M2116.8,708.1v-7" stroke="#000" stroke-width="6" fill="none"/>
<text x="1325.0" y="667.2" font-size="38" font-weight="bold" text-anchor="end" >0.000</text>
<text x="1325.0" y="563.2" font-size="38" font-weight="bold" text-anchor="end" >0.005</text>
<text x="1325.0" y="459.3" font-size="38" font-weight="bold" text-anchor="end" >0.010</text>
<text x="1325.0" y="355.3" font-size="38" font-weight="bold" text-anchor="end" >0.015</text>
<text x="1325.0" y="251.4" font-size="38" font-weight="bold" text-anchor="end" >0.020</text>
<text x="1325.0" y="147.4" font-size="38" font-weight="bold" text-anchor="end" >0.025</text>
<text x="1325.0" y="43.5" font-size="38" font-weight="bold" text-anchor="end" >0.030</text>
<text x="1339.7" y="752.0" font-size="38" font-weight="bold" text-anchor="middle" >0</text>
<text x="1459.3" y="752.0" font-size="38" font-weight="bold" text-anchor="middle" >20</text>
<text x="1578.9" y="752.0" font-size="38" font-weight="bold" text-anchor="middle" >40</text>
<text x="1698.5" y="752.0" font-size="38" font-weight="bold" text-anchor="middle" >60</text>
<text x="1818.1" y="752.0" font-size="38" font-weight="bold" text-anchor="middle" >80</text>
<text x="1937.7" y="752.0" font-size="38" font-weight="bold" text-anchor="middle" >100</text>
<text x="2057.3" y="752.0" font-size="38" font-weight="bold" text-anchor="middle" >120</text>
<text x="2176.9" y="752.0" font-size="38" font-weight="bold" text-anchor="middle" >140</text>
<text transform="translate(1187 372.5) rotate(-90)" font-size="58.4" font-weight="bold" text-anchor="middle">dV/dr<tspan font-size="41" dy="16">p</tspan><tspan dy="-16">(cc/nm/g)</tspan></text>
<text x="1758.0" y="816.3" font-size="57" font-weight="bold" text-anchor="middle" >Pore width(nm)</text>
<text x="1362" y="110.6" font-size="69.5" font-weight="normal" stroke="#000" stroke-width="1.1">(<tspan dx="-3">b</tspan><tspan dx="1.9">)</tspan></text>
<path d="M1684.8,63.5H1717.7 M1738.7,63.5H1770.9" stroke="#858585" stroke-width="1.2"/>
<rect x="1720.7" y="56.0" width="15" height="15" fill="#4f4f4f"/>
<text x="1781.6" y="76.9" font-size="38.15" font-weight="bold" text-anchor="start" >The pristine CNT film</text>
<path d="M1684.8,111.7H1717.7 M1738.7,111.7H1770.9" stroke="#f58c8c" stroke-width="1.2"/>
<circle cx="1728.2" cy="111.7" r="8.25" fill="#f03c3c"/>
<text x="1781.6" y="125.1" font-size="38.15" font-weight="bold" text-anchor="start" >CNT/E51-DAD-30</text>
<path d="M1684.8,159.9H1717.7 M1738.7,159.9H1770.9" stroke="#b4cdf7" stroke-width="2.4"/>
<polygon points="1718.7,166.8 1737.7,166.8 1728.2,149.8" fill="#1666e0"/>
<text x="1781.6" y="173.3" font-size="38.15" font-weight="bold" text-anchor="start" >CNT/E51-DAD-50</text>
<path d="M1684.8,208.1H1717.7 M1738.7,208.1H1770.9" stroke="#5cb888" stroke-width="1.2"/>
<polygon points="1718.7,202.0 1737.7,202.0 1728.2,219.0" fill="#2ea05e"/>
<text x="1781.6" y="221.5" font-size="38.15" font-weight="bold" text-anchor="start" >CNT/E51-DAD-70</text>
<path d="M1684.8,256.3H1717.7 M1738.7,256.3H1770.9" stroke="#e2cff5" stroke-width="2.4"/>
<polygon points="1719.0,256.3 1728.2,246.3 1737.5,256.3 1728.2,266.3" fill="#a976e0"/>
<text x="1781.6" y="269.7" font-size="38.15" font-weight="bold" text-anchor="start" >CNT/E51-DAD-90</text>
</g>
</svg>
</body>
</html>
